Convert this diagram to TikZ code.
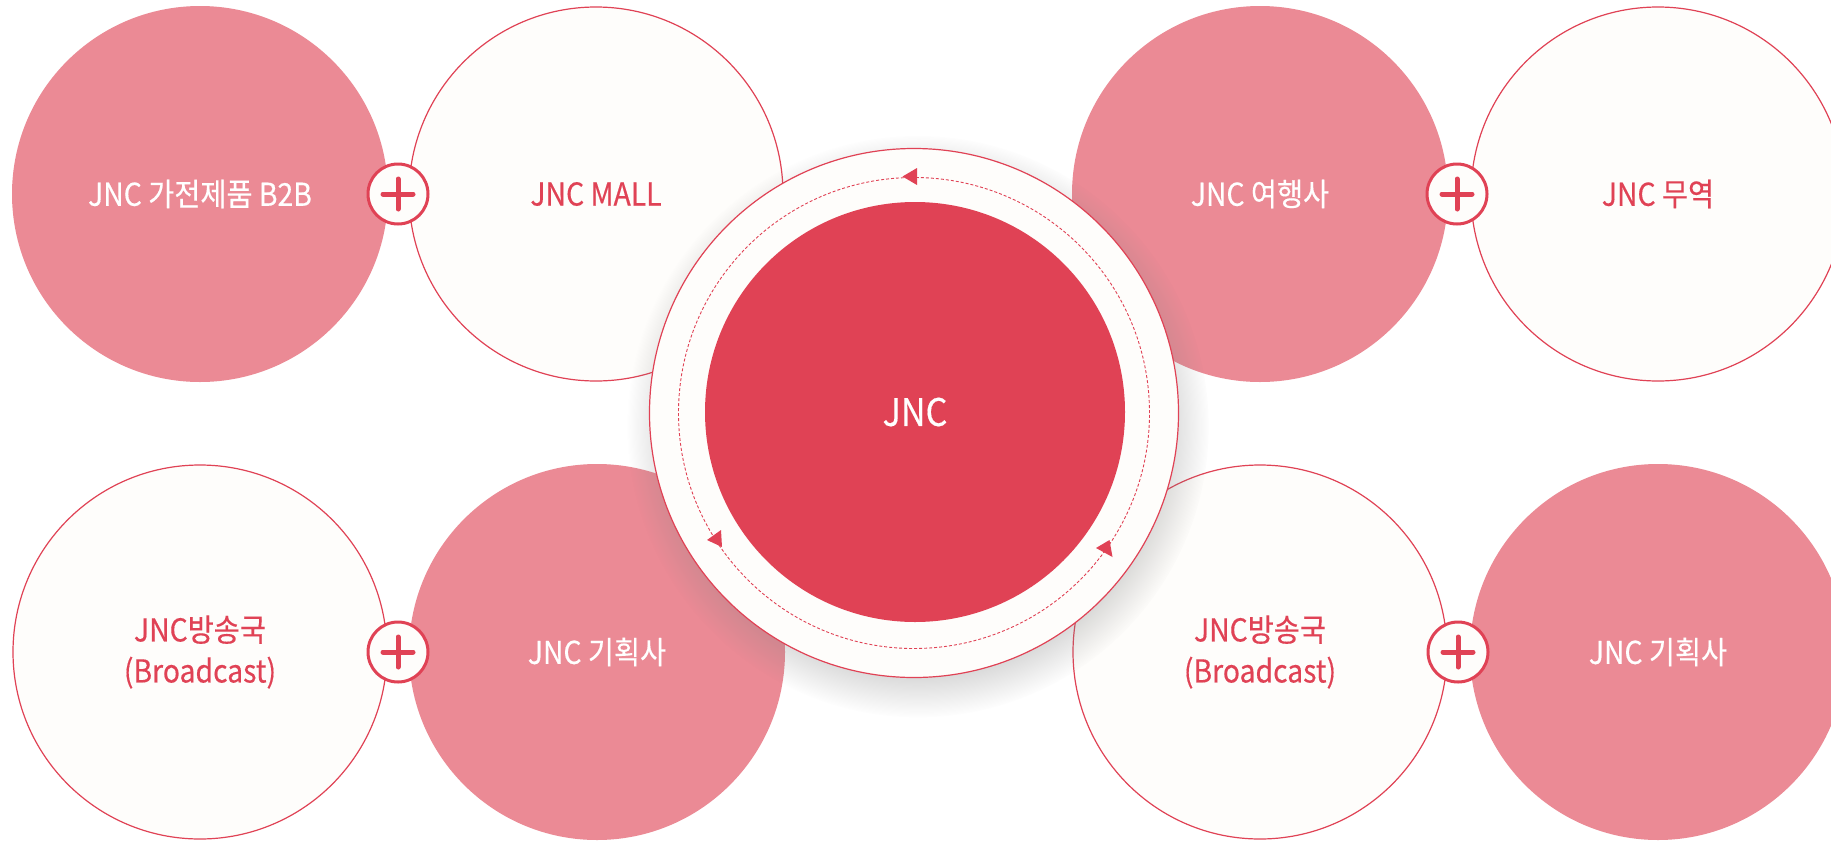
\documentclass[tikz,border=0pt]{standalone}
\usepackage{fontspec}
\newfontfamily\kr[FakeStretch=0.9,FakeBold=0.35]{Noto Sans CJK KR}
\usetikzlibrary{shadows}
\definecolor{jred}{RGB}{224,66,85}
\definecolor{jpink}{RGB}{235,138,149}
\definecolor{joff}{RGB}{254,253,251}
\begin{document}
\begin{tikzpicture}[x=1pt,y=-1pt,
  lbl/.style={font=\kr\fontsize{31.5}{41}\selectfont,align=center},
  pinkc/.style={circle,inner sep=0pt,minimum size=376pt,fill=jpink,text=white,lbl},
  whitec/.style={circle,inner sep=0pt,minimum size=374pt,fill=joff,draw=jred,line width=1.2pt,text=jred,lbl},
  plusc/.style={circle,inner sep=0pt,minimum size=60pt,fill=joff,draw=jred,line width=3pt,
    path picture={\draw[jred,line width=5pt,line cap=round]
      ([xshift=-15pt]path picture bounding box.center) -- ([xshift=15pt]path picture bounding box.center)
      ([yshift=-15pt]path picture bounding box.center) -- ([yshift=15pt]path picture bounding box.center);}},
  ringc/.style={circle,inner sep=0pt,minimum size=529pt,fill=joff,draw=jred,line width=1.2pt,
    circular drop shadow={shadow xshift=4pt,shadow yshift=-12pt,shadow scale=1.1,opacity=0.3}},
  corec/.style={circle,inner sep=0pt,minimum size=420pt,fill=jred,text=white,font=\kr\fontsize{38}{40}\selectfont},
  dashc/.style={jred,line width=0.9pt,dash pattern=on 3pt off 2pt},
  tipc/.style={fill=jred}
  ]
\useasboundingbox (0,0) rectangle (1831,841);
\fill[white] (0,0) rectangle (1831,841);
% outer circles
\node[pinkc]  (b2b)    at (200,194) {JNC 가전제품 B2B};
\node[whitec] (mall)   at (596,194) {JNC MALL};
\node[pinkc]  (travel) at (1260,194) {JNC 여행사};
\node[whitec] (trade)  at (1658,194) {JNC 무역};
\node[whitec] (bcl)    at (200,652) {JNC방송국\\(Broadcast)};
\node[pinkc]  (pll)    at (597,652) {JNC 기획사};
\node[whitec] (bcr)    at (1260,652) {JNC방송국\\(Broadcast)};
\node[pinkc]  (plr)    at (1658,652) {JNC 기획사};
% plus joints
\node[plusc] (p1) at (398,194) {};
\node[plusc] (p2) at (1457,194) {};
\node[plusc] (p3) at (398,652) {};
\node[plusc] (p4) at (1458,652) {};
% centre
\node[ringc] (ring) at (914,413) {};
\draw[dashc] (ring.center) circle[radius=235.5pt];
\node[corec] (core) at (915,412) {JNC};
% arrow heads on the dashed cycle
\fill[tipc] (902.5,176.5) -- (917,168) -- (917,185) -- cycle;
\fill[tipc] (707,540) -- (721,530) -- (722,547) -- cycle;
\fill[tipc] (1096,548) -- (1109.5,540) -- (1112.5,557) -- cycle;
\end{tikzpicture}
\end{document}
